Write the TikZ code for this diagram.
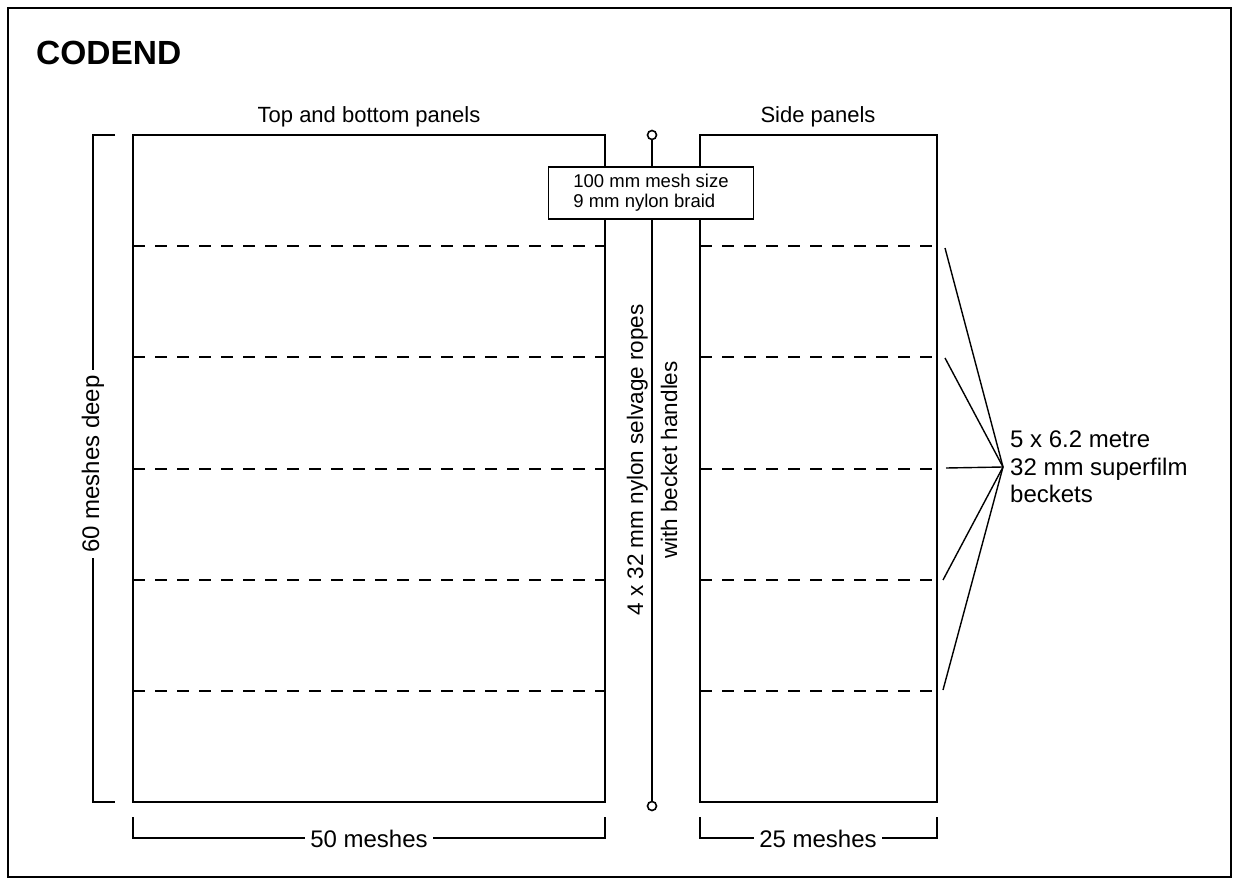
\documentclass[tikz,border=0pt]{standalone}
\usepackage{fontspec}
\setmainfont{Liberation Sans}
\begin{document}
\begin{tikzpicture}[x=1pt,y=-1pt,
  frame/.style={line width=2pt},
  panel/.style={draw, line width=1.8pt, inner sep=0pt, outer sep=0pt, anchor=north west},
  seam/.style={line width=2pt, dash pattern=on 12pt off 10pt},
  dim/.style={line width=1.4pt},
  lbl/.style={font=\fontsize{22}{25}\selectfont, inner sep=0pt},
  dimlbl/.style={font=\fontsize{24}{27}\selectfont, fill=white, inner xsep=5pt, inner ysep=0pt},
  ttl/.style={font=\bfseries\fontsize{33.5}{37}\selectfont, inner sep=0pt, anchor=west},
  ring/.style={circle, draw, line width=1.6pt, minimum size=9pt, inner sep=0pt, fill=white},
  becket/.style={line width=1.4pt}
]
\useasboundingbox (0,0) rectangle (1234,880);
\draw[frame] (8,8) rectangle (1231,877);

\node[ttl] (title) at (36,53) {CODEND};

% panels
\node[panel, minimum width=472pt, minimum height=667pt] (tb) at (133,135) {};
\node[panel, minimum width=237pt, minimum height=667pt] (sp) at (700,135) {};
\node[lbl, anchor=base] (tblbl) at (369,123) {Top and bottom panels};
\node[lbl, anchor=base] (splbl) at (818,123) {Side panels};

\foreach \yy in {246,357,469,580,691} {
  \draw[seam] (tb.west |- 0,\yy) -- (tb.east |- 0,\yy);
  \draw[seam] (sp.west |- 0,\yy) -- (sp.east |- 0,\yy);
}

% rope
\node[ring] (rt) at (652,135) {};
\node[ring] (rb) at (652,806) {};
\draw[line width=1.5pt] (rt) -- (rb);
\node[draw, line width=1.5pt, fill=white, align=left, minimum width=205pt, minimum height=52pt,
      font=\fontsize{18.5}{20}\selectfont] (box) at (651,193)
      {100 mm mesh size\\9 mm nylon braid};
\node[rotate=90, align=center, font=\fontsize{22.5}{34}\selectfont, inner sep=0pt] (ropes) at (652,460)
      {4 x 32 mm nylon selvage ropes\\with becket handles};

% depth dimension
\coordinate (dt) at (115,135);
\coordinate (db) at (115,802);
\draw[dim] (dt) -- (93,135) -- (93,802) -- (db);
\node[dimlbl, rotate=90] (deep) at (93,464) {60 meshes deep};

% width dimensions
\coordinate (wl1) at (133,817);
\coordinate (wr1) at (605,817);
\draw[dim] (wl1) -- (133,838) -- (605,838) -- (wr1);
\node[dimlbl] (w50) at (369,839) {50 meshes};
\coordinate (wl2) at (700,817);
\coordinate (wr2) at (937,817);
\draw[dim] (wl2) -- (700,838) -- (937,838) -- (wr2);
\node[dimlbl] (w25) at (818,839) {25 meshes};

% beckets
\coordinate (bk) at (1003,467);
\coordinate (b1) at (945,248);
\coordinate (b2) at (945,358);
\coordinate (b3) at (946,468);
\coordinate (b4) at (943,580);
\coordinate (b5) at (943,690);
\foreach \b in {b1,b2,b3,b4,b5} \draw[becket] (\b) -- (bk);
\node[anchor=west, align=left, font=\fontsize{24}{27.5}\selectfont, inner sep=0pt] (bktxt) at (1010,467)
  {5 x 6.2 metre\\32 mm superfilm\\beckets};
\end{tikzpicture}
\end{document}
